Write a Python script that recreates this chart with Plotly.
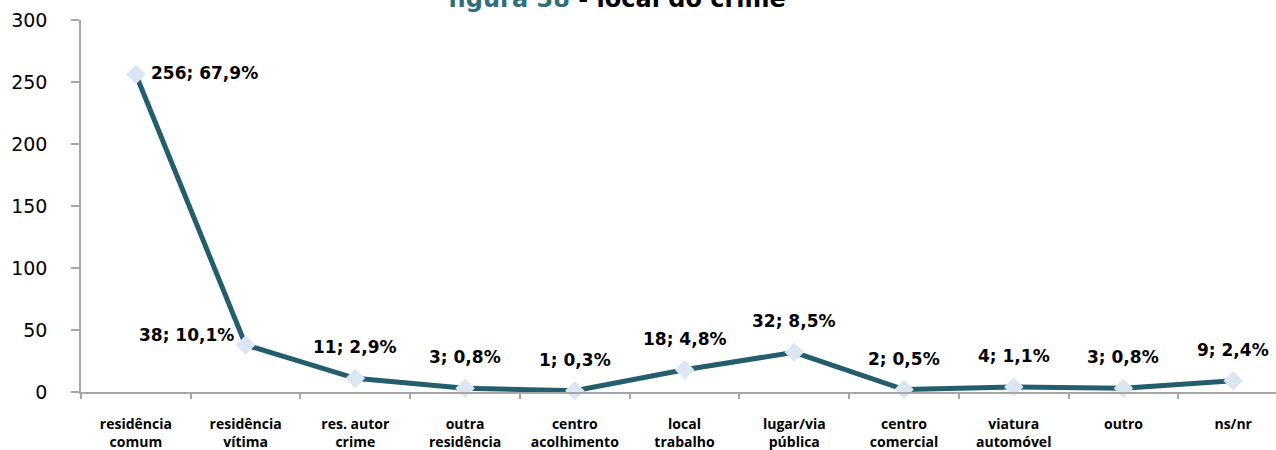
import plotly.graph_objects as go

# Crime location: counts and share of total
categories = [
    "residência<br>comum", "residência<br>vítima", "res. autor<br>crime",
    "outra<br>residência", "centro<br>acolhimento", "local<br>trabalho",
    "lugar/via<br>pública", "centro<br>comercial", "viatura<br>automóvel",
    "outro", "ns/nr",
]
counts = [256, 38, 11, 3, 1, 18, 32, 2, 4, 3, 9]
percent = [67.9, 10.1, 2.9, 0.8, 0.3, 4.8, 8.5, 0.5, 1.1, 0.8, 2.4]
y_ticks = [0, 50, 100, 150, 200, 250, 300]

line_color = "#245E6D"
marker_color = "#DCE6F2"
axis_color = "#A6A6A6"
title_teal = "#2E6E7E"

fig = go.Figure()
fig.add_trace(go.Scatter(
    x=categories, y=counts, mode="lines+markers",
    line=dict(color=line_color, width=5),
    marker=dict(symbol="diamond", size=15, color=marker_color,
                line=dict(width=0)),
    hoverinfo="skip", cliponaxis=False,
))

# value labels "n; p%"
for i, (cat, n, p) in enumerate(zip(categories, counts, percent)):
    txt = f"<b>{n}; {p:.1f}%</b>".replace(".", ",")
    if i == 0:
        kw = dict(xanchor="left", yanchor="middle", xshift=13, yshift=2)
    elif i == 1:
        kw = dict(xanchor="right", yanchor="middle", xshift=-10, yshift=10)
    else:
        kw = dict(xanchor="center", yanchor="middle", xshift=0, yshift=31)
    fig.add_annotation(x=cat, y=n, text=txt, showarrow=False,
                       font=dict(family="DejaVu Sans", size=17, color="#000000"),
                       **kw)

fig.add_annotation(
    xref="paper", yref="paper", x=(617 - 81) / 1195, y=1,
    xanchor="center", yanchor="bottom", yshift=5, showarrow=False,
    text=f'<b><span style="color:{title_teal}">figura 38</span> - local do crime</b>',
    font=dict(family="DejaVu Sans", size=24, color="#000000"),
)

fig.update_layout(
    width=1276, height=450,
    margin=dict(l=81, r=0, t=20, b=58, autoexpand=False),
    paper_bgcolor="white", plot_bgcolor="white",
    showlegend=False,
    xaxis=dict(
        type="category", categoryorder="array", categoryarray=categories,
        range=[-0.5, 10.39], showgrid=False, zeroline=False,
        showline=True, linecolor=axis_color, linewidth=1.5,
        ticks="outside", tickson="boundaries", ticklen=5,
        tickcolor=axis_color, tickwidth=1.5,
        tickfont=dict(family="Open Sans", size=14, color="#000000"),
        ticklabelstandoff=18, automargin=False,
    ),
    yaxis=dict(
        range=[0, 300], tickvals=y_ticks, showgrid=False, zeroline=False,
        showline=True, linecolor=axis_color, linewidth=1.5,
        ticks="outside", ticklen=8, tickcolor=axis_color, tickwidth=1.5,
        tickfont=dict(family="DejaVu Sans", size=19, color="#000000"),
        ticklabelstandoff=20, automargin=False,
    ),
)
fig.update_xaxes(tickprefix="<b>", ticksuffix="</b>")

fig.write_html("out.html")
